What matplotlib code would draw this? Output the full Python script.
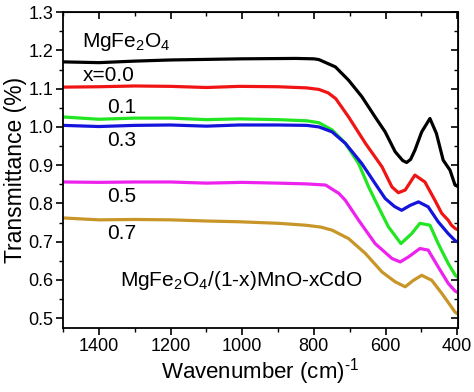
import matplotlib
matplotlib.use('Agg')
import matplotlib.pyplot as plt
from matplotlib.ticker import MultipleLocator

plt.rcParams['font.family'] = ['Liberation Sans', 'DejaVu Sans']
plt.rcParams['mathtext.fontset'] = 'custom'
plt.rcParams['mathtext.rm'] = 'Liberation Sans'

## wavenumbers and transmittance
wn_black = [1500, 1400, 1300, 1200, 1000, 850, 800, 786, 740, 703, 666, 629, 601, 573, 552, 541, 530, 518, 499, 476, 458, 439, 420, 406, 400]
t_black = [1.170, 1.168, 1.172, 1.175, 1.178, 1.179, 1.178, 1.176, 1.157, 1.122, 1.079, 1.026, 0.987, 0.935, 0.912, 0.907, 0.915, 0.939, 0.987, 1.022, 0.983, 0.913, 0.887, 0.848, 0.845]

wn_red = [1500, 1400, 1300, 1200, 1100, 1008, 900, 820, 786, 760, 739, 703, 656, 610, 582, 564, 545, 518, 490, 462, 443, 425, 416, 405, 400]
t_red = [1.104, 1.105, 1.107, 1.106, 1.103, 1.106, 1.105, 1.102, 1.098, 1.089, 1.074, 1.026, 0.957, 0.896, 0.843, 0.828, 0.835, 0.874, 0.856, 0.808, 0.774, 0.756, 0.743, 0.734, 0.732]

wn_green = [1500, 1450, 1400, 1300, 1200, 1100, 1008, 900, 820, 786, 749, 712, 675, 647, 629, 592, 557, 527, 504, 476, 453, 425, 405, 400]
t_green = [1.026, 1.023, 1.020, 1.023, 1.023, 1.019, 1.021, 1.019, 1.016, 1.011, 0.992, 0.957, 0.904, 0.843, 0.808, 0.739, 0.695, 0.721, 0.748, 0.743, 0.695, 0.643, 0.612, 0.608]

wn_blue = [1500, 1400, 1300, 1200, 1100, 1008, 900, 820, 786, 749, 712, 666, 629, 601, 575, 555, 531, 508, 481, 453, 425, 405, 400]
t_blue = [1.004, 1.001, 1.004, 1.005, 1.002, 1.005, 1.005, 1.004, 1.000, 0.987, 0.957, 0.904, 0.852, 0.813, 0.792, 0.782, 0.795, 0.804, 0.791, 0.752, 0.721, 0.702, 0.700]

wn_mag = [1500, 1400, 1300, 1200, 1100, 1000, 900, 820, 767, 730, 712, 675, 629, 582, 559, 536, 504, 481, 453, 425, 406, 400]
t_mag = [0.856, 0.855, 0.856, 0.856, 0.853, 0.855, 0.853, 0.851, 0.848, 0.826, 0.808, 0.756, 0.695, 0.656, 0.647, 0.660, 0.682, 0.678, 0.634, 0.591, 0.571, 0.568]

wn_gold = [1500, 1400, 1300, 1200, 1100, 1008, 900, 823, 780, 749, 703, 656, 610, 573, 545, 522, 499, 471, 443, 406, 400]
t_gold = [0.762, 0.757, 0.758, 0.757, 0.754, 0.752, 0.748, 0.743, 0.738, 0.730, 0.708, 0.669, 0.621, 0.595, 0.582, 0.599, 0.612, 0.599, 0.565, 0.516, 0.512]

fig = plt.figure(figsize=(4.74, 3.92), dpi=100)
ax = fig.add_axes([0.133, 0.163, 0.833, 0.806])

lw = 2.3
ax.plot(wn_black, t_black, color='black', lw=lw)
ax.plot(wn_red, t_red, color='#f01414', lw=lw)
ax.plot(wn_green, t_green, color='#22e622', lw=lw)
ax.plot(wn_blue, t_blue, color='#1414dc', lw=lw)
ax.plot(wn_mag, t_mag, color='#ee22ee', lw=lw)
ax.plot(wn_gold, t_gold, color='#c89628', lw=lw)

ax.set_xlim(1500, 398)
ax.set_ylim(0.474, 1.3)
ax.xaxis.set_major_locator(MultipleLocator(200))
ax.xaxis.set_minor_locator(MultipleLocator(100))
ax.yaxis.set_major_locator(MultipleLocator(0.1))
ax.yaxis.set_minor_locator(MultipleLocator(0.05))
ax.tick_params(which='major', direction='out', length=5, width=1.2, labelsize=13, pad=2)
ax.tick_params(which='minor', direction='out', length=3, width=1.0)
for s in ax.spines.values():
    s.set_linewidth(1.3)

# mirrored ticks pointing inward on top and right
top = ax.secondary_xaxis('top')
top.xaxis.set_major_locator(MultipleLocator(200))
top.xaxis.set_minor_locator(MultipleLocator(100))
top.tick_params(which='major', direction='in', length=5, width=1.2, labeltop=False)
top.tick_params(which='minor', direction='in', length=3, width=1.0)
right = ax.secondary_yaxis('right')
right.yaxis.set_major_locator(MultipleLocator(0.1))
right.yaxis.set_minor_locator(MultipleLocator(0.05))
right.tick_params(which='major', direction='in', length=5, width=1.2, labelright=False)
right.tick_params(which='minor', direction='in', length=3, width=1.0)

ax.set_xlabel(r'Wavenumber (cm)$^{\text{-1}}$', fontsize=16, labelpad=1)
ax.set_ylabel('Transmittance (%)', fontsize=16.5, labelpad=1)

fs = 15
ax.text(1447, 1.222, 'MgFe$_2$O$_4$', fontsize=fs, va='center')
ax.text(1444, 1.135, 'x=0.0', fontsize=fs, va='center')
ax.text(1378, 1.052, '0.1', fontsize=fs, va='center')
ax.text(1378, 0.965, '0.3', fontsize=fs, va='center')
ax.text(1378, 0.817, '0.5', fontsize=fs, va='center')
ax.text(1378, 0.722, '0.7', fontsize=fs, va='center')
ax.text(1342, 0.599, 'MgFe$_2$O$_4$/(1-x)MnO-xCdO', fontsize=fs, va='center')

plt.savefig('out.png', dpi=100)
